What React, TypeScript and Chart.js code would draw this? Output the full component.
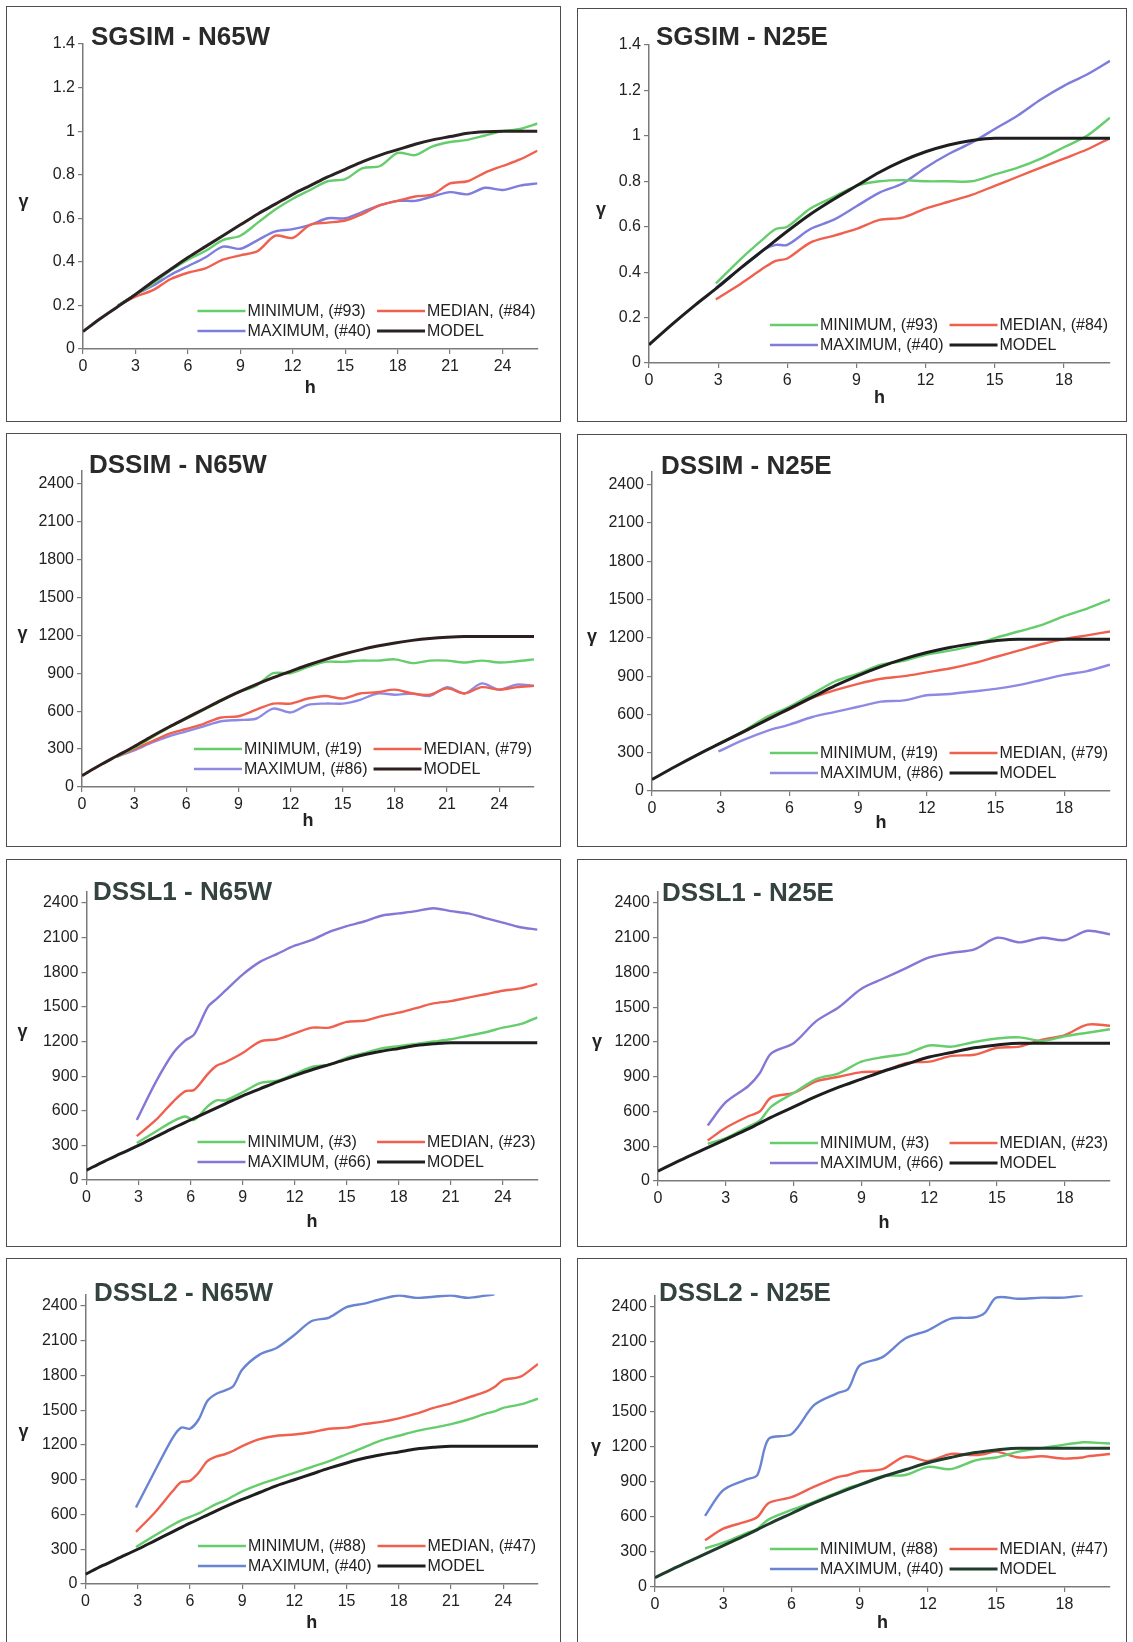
import React, { useEffect, useRef } from "react";
import { Chart, registerables } from "chart.js";

Chart.register(...registerables);

const FONT = '"Liberation Sans", Arial, Helvetica, sans-serif';

const GREEN = "#66cd6c";
const RED = "#f0604e";

// lag distances h for the fitted models
const lags26 = [0, 1, 2, 3, 4, 5, 6, 7, 8, 9, 10, 11, 12, 13, 14, 15, 16, 17, 18, 19, 20, 21, 22, 23, 24, 25, 26];
const lags20 = [0, 1, 2, 3, 4, 5, 6, 7, 8, 9, 10, 11, 12, 13, 14, 15, 16, 17, 18, 19, 20];

// ---- SGSIM - N65W ----
const sgsimN65wLabels = ["MINIMUM, (#93)", "MEDIAN, (#84)", "MAXIMUM, (#40)", "MODEL"];
const sgsimN65wModel = [0.08, 0.14, 0.195, 0.25, 0.31, 0.365, 0.42, 0.47, 0.52, 0.57, 0.62, 0.665, 0.71, 0.75, 0.79, 0.825, 0.86, 0.89, 0.915, 0.94, 0.96, 0.975, 0.99, 0.997, 1.0, 1.0, 1.0];
const sgsimN65wLags = [2, 3, 4, 5, 6, 7, 8, 9, 10, 11, 12, 13, 14, 15, 16, 17, 18, 19, 20, 21, 22, 23, 24, 25, 26];
const sgsimN65wMin = [0.2, 0.25, 0.3, 0.36, 0.41, 0.45, 0.5, 0.52, 0.58, 0.64, 0.69, 0.73, 0.77, 0.78, 0.83, 0.84, 0.9, 0.89, 0.93, 0.95, 0.96, 0.98, 1.0, 1.01, 1.035];
const sgsimN65wMed = [0.2, 0.24, 0.27, 0.32, 0.35, 0.37, 0.41, 0.43, 0.45, 0.52, 0.51, 0.57, 0.58, 0.59, 0.62, 0.66, 0.68, 0.7, 0.71, 0.76, 0.77, 0.81, 0.84, 0.87, 0.91];
const sgsimN65wMax = [0.2, 0.25, 0.29, 0.34, 0.38, 0.42, 0.47, 0.46, 0.5, 0.54, 0.55, 0.57, 0.6, 0.6, 0.63, 0.66, 0.68, 0.68, 0.7, 0.72, 0.71, 0.74, 0.73, 0.75, 0.76];

// ---- SGSIM - N25E ----
const sgsimN25eLabels = ["MINIMUM, (#93)", "MEDIAN, (#84)", "MAXIMUM, (#40)", "MODEL"];
const sgsimN25eModel = [0.08, 0.17, 0.255, 0.335, 0.42, 0.5, 0.58, 0.655, 0.72, 0.78, 0.84, 0.89, 0.93, 0.96, 0.98, 0.99, 0.99, 0.99, 0.99, 0.99, 0.99];
const sgsimN25eLags = [2.9, 4, 5, 5.5, 6, 7, 8, 9, 10, 11, 12, 13, 14, 15, 16, 17, 18, 19, 20];
const sgsimN25eMin = [0.35, 0.46, 0.55, 0.59, 0.6, 0.68, 0.73, 0.78, 0.8, 0.805, 0.8, 0.8, 0.8, 0.83, 0.86, 0.9, 0.95, 1.0, 1.08];
const sgsimN25eMed = [0.28, 0.35, 0.42, 0.45, 0.46, 0.53, 0.56, 0.59, 0.63, 0.64, 0.68, 0.71, 0.74, 0.78, 0.82, 0.86, 0.9, 0.94, 0.99];
const sgsimN25eMax = [0.33, 0.42, 0.5, 0.52, 0.52, 0.59, 0.63, 0.69, 0.75, 0.79, 0.86, 0.92, 0.97, 1.03, 1.09, 1.16, 1.22, 1.27, 1.33];

// ---- DSSIM - N65W ----
const dssimN65wLabels = ["MINIMUM, (#19)", "MEDIAN, (#79)", "MAXIMUM, (#86)", "MODEL"];
const dssimN65wModel = [90, 170, 245, 320, 400, 475, 545, 615, 685, 750, 810, 865, 915, 965, 1010, 1050, 1085, 1115, 1140, 1160, 1175, 1185, 1190, 1190, 1190, 1190, 1190];
const dssimN65wLags = [2, 3, 4, 5, 6, 7, 8, 9, 10, 11, 12, 13, 14, 15, 16, 17, 18, 19, 20, 21, 22, 23, 24, 25, 26];
const dssimN65wMin = [240, 310, 390, 470, 540, 610, 680, 750, 800, 900, 900, 950, 990, 990, 1000, 1000, 1010, 980, 1000, 1000, 985, 1000, 985, 995, 1010];
const dssimN65wMed = [240, 300, 360, 420, 460, 500, 550, 560, 610, 660, 660, 700, 720, 700, 740, 750, 770, 740, 730, 780, 740, 790, 770, 790, 800];
const dssimN65wMax = [240, 290, 350, 400, 440, 480, 520, 530, 540, 620, 590, 650, 660, 660, 690, 740, 730, 740, 720, 790, 740, 820, 770, 810, 800];

// ---- DSSIM - N25E ----
const dssimN25eLabels = ["MINIMUM, (#19)", "MEDIAN, (#79)", "MAXIMUM, (#86)", "MODEL"];
const dssimN25eModel = [90, 190, 285, 375, 465, 555, 645, 735, 825, 905, 975, 1035, 1085, 1125, 1155, 1178, 1190, 1190, 1190, 1190, 1190];
const dssimN25eLags = [2.9, 4, 5, 6, 7, 8, 9, 10, 11, 12, 13, 14, 15, 16, 17, 18, 19, 20];
const dssimN25eMin = [370, 470, 580, 660, 760, 860, 920, 990, 1020, 1070, 1100, 1140, 1200, 1250, 1300, 1370, 1430, 1500];
const dssimN25eMed = [370, 460, 570, 640, 730, 790, 840, 880, 900, 930, 960, 1000, 1050, 1100, 1150, 1190, 1220, 1250];
const dssimN25eMax = [310, 400, 470, 520, 580, 620, 660, 700, 710, 750, 760, 780, 800, 830, 870, 910, 940, 990];

// ---- DSSL1 - N65W ----
const dssl1N65wLabels = ["MINIMUM, (#3)", "MEDIAN, (#23)", "MAXIMUM, (#66)", "MODEL"];
const dssl1N65wModel = [85, 160, 230, 300, 375, 450, 520, 590, 660, 730, 790, 850, 905, 955, 1000, 1045, 1085, 1115, 1140, 1165, 1180, 1190, 1190, 1190, 1190, 1190, 1190];
const dssl1N65wLags = [2.9, 4, 5, 5.7, 6.2, 7, 7.5, 8, 9, 10, 11, 12, 13, 14, 15, 16, 17, 18, 19, 20, 21, 22, 23, 24, 25, 26];
const dssl1N65wMin = [320, 420, 510, 550, 520, 640, 690, 690, 760, 840, 860, 920, 980, 1000, 1060, 1100, 1140, 1160, 1180, 1200, 1220, 1250, 1280, 1320, 1350, 1410];
const dssl1N65wMed = [380, 520, 680, 770, 780, 920, 990, 1020, 1100, 1200, 1220, 1270, 1320, 1320, 1370, 1380, 1420, 1450, 1490, 1530, 1550, 1580, 1610, 1640, 1660, 1700];
const dssl1N65wMax = [520, 850, 1100, 1210, 1260, 1500, 1570, 1640, 1780, 1890, 1960, 2030, 2080, 2150, 2200, 2240, 2290, 2310, 2330, 2355, 2330, 2310, 2270, 2230, 2190, 2170];

// ---- DSSL1 - N25E ----
const dssl1N25eLabels = ["MINIMUM, (#3)", "MEDIAN, (#23)", "MAXIMUM, (#66)", "MODEL"];
const dssl1N25eModel = [85, 180, 270, 360, 450, 550, 640, 730, 810, 880, 950, 1010, 1070, 1110, 1150, 1175, 1190, 1190, 1190, 1190, 1190];
const dssl1N25eLags = [2.2, 3, 4, 4.5, 5, 6, 7, 8, 9, 10, 11, 12, 13, 14, 15, 16, 17, 18, 19, 20];
const dssl1N25eMin = [320, 370, 470, 520, 640, 760, 880, 930, 1030, 1070, 1100, 1170, 1160, 1200, 1230, 1240, 1210, 1250, 1280, 1310];
const dssl1N25eMed = [350, 460, 560, 600, 720, 760, 860, 900, 940, 950, 1020, 1030, 1080, 1090, 1150, 1160, 1220, 1260, 1350, 1340];
const dssl1N25eMax = [480, 680, 820, 930, 1100, 1190, 1380, 1500, 1660, 1750, 1840, 1930, 1970, 2000, 2100, 2060, 2100, 2080, 2160, 2130];

// ---- DSSL2 - N65W ----
const dssl2N65wLabels = ["MINIMUM, (#88)", "MEDIAN, (#47)", "MAXIMUM, (#40)", "MODEL"];
const dssl2N65wModel = [85, 160, 230, 300, 375, 450, 525, 595, 665, 730, 790, 850, 900, 950, 1000, 1045, 1085, 1115, 1140, 1165, 1180, 1190, 1190, 1190, 1190, 1190, 1190];
const dssl2N65wLags = [2.9, 4, 5, 5.5, 6, 6.5, 7, 7.5, 8, 8.5, 9, 10, 11, 12, 13, 14, 15, 16, 17, 18, 19, 20, 21, 22, 23, 23.5, 24, 25, 26];
const dssl2N65wMin = [320, 420, 510, 550, 580, 610, 650, 690, 720, 760, 800, 860, 910, 960, 1010, 1060, 1120, 1180, 1240, 1280, 1320, 1350, 1380, 1420, 1470, 1490, 1520, 1550, 1600];
const dssl2N65wMed = [450, 620, 800, 880, 890, 960, 1060, 1100, 1120, 1150, 1190, 1250, 1280, 1290, 1310, 1340, 1350, 1380, 1400, 1430, 1470, 1520, 1560, 1610, 1660, 1700, 1760, 1790, 1900];
const dssl2N65wMax = [660, 980, 1260, 1350, 1340, 1420, 1580, 1640, 1670, 1710, 1850, 1980, 2040, 2150, 2270, 2300, 2390, 2420, 2460, 2490, 2470, 2480, 2490, 2470, 2490, 2500, null, null, null];

// ---- DSSL2 - N25E ----
const dssl2N25eLabels = ["MINIMUM, (#88)", "MEDIAN, (#47)", "MAXIMUM, (#40)", "MODEL"];
const dssl2N25eModel = [80, 175, 265, 355, 445, 540, 630, 720, 800, 875, 945, 1005, 1065, 1110, 1150, 1175, 1190, 1190, 1190, 1190, 1190];
const dssl2N25eLags = [2.2, 3, 4, 4.5, 5, 6, 7, 8, 8.5, 9, 10, 11, 12, 13, 14, 14.5, 15, 16, 17, 18, 18.8, 19, 20];
const dssl2N25eMin = [330, 380, 460, 500, 580, 660, 730, 810, 850, 880, 950, 960, 1030, 1010, 1080, 1100, 1110, 1160, 1190, 1220, 1240, 1240, 1230];
const dssl2N25eMed = [400, 500, 560, 600, 720, 770, 860, 940, 960, 990, 1010, 1120, 1080, 1140, 1130, 1140, 1160, 1110, 1120, 1100, 1110, 1120, 1140];
const dssl2N25eMax = [610, 830, 920, 960, 1270, 1310, 1560, 1660, 1700, 1900, 1970, 2130, 2200, 2300, 2310, 2350, 2480, 2470, 2480, 2480, 2500, null, null];

const SGSIM_TITLE = "#2a2a2a";
const DSSL_TITLE = "#34433f";

const panels = [
  {
    title: "SGSIM - N65W", titleColor: SGSIM_TITLE, labels: sgsimN65wLabels,
    modelLags: lags26, model: sgsimN65wModel, simLags: sgsimN65wLags,
    min: sgsimN65wMin, med: sgsimN65wMed, max: sgsimN65wMax,
    maxColor: "#7e7cdc", modelColor: "#2a2222",
    xMax: 26, yMax: 1.4, yStep: 0.2,
    box: { x: 6, y: 6, w: 555, h: 416 }, plot: { l: 77, r: 531.5, t: 38, b: 343 },
    titleAt: { x: 85, y: 39 }, hY: 382, gammaAt: { x: 17.6, y: 196 }, open: false,
  },
  {
    title: "SGSIM - N25E", titleColor: SGSIM_TITLE, labels: sgsimN25eLabels,
    modelLags: lags20, model: sgsimN25eModel, simLags: sgsimN25eLags,
    min: sgsimN25eMin, med: sgsimN25eMed, max: sgsimN25eMax,
    maxColor: "#7e7cdc", modelColor: "#1e1e1e",
    xMax: 20, yMax: 1.4, yStep: 0.2,
    box: { x: 577, y: 8, w: 550, h: 414 }, plot: { l: 72, r: 533, t: 37, b: 355 },
    titleAt: { x: 79, y: 37 }, hY: 390, gammaAt: { x: 24, y: 202 }, open: false,
  },
  {
    title: "DSSIM - N65W", titleColor: SGSIM_TITLE, labels: dssimN65wLabels,
    modelLags: lags26, model: dssimN65wModel, simLags: dssimN65wLags,
    min: dssimN65wMin, med: dssimN65wMed, max: dssimN65wMax,
    maxColor: "#8e8ae4", modelColor: "#2e1e1e",
    xMax: 26, yMax: 2500, yStep: 300,
    box: { x: 6, y: 433, w: 555, h: 414 }, plot: { l: 76, r: 528, t: 38, b: 354 },
    titleAt: { x: 83, y: 40 }, hY: 388, gammaAt: { x: 16.5, y: 201 }, open: false,
  },
  {
    title: "DSSIM - N25E", titleColor: SGSIM_TITLE, labels: dssimN25eLabels,
    modelLags: lags20, model: dssimN25eModel, simLags: dssimN25eLags,
    min: dssimN25eMin, med: dssimN25eMed, max: dssimN25eMax,
    maxColor: "#8e8ae4", modelColor: "#1e1e1e",
    xMax: 20, yMax: 2500, yStep: 300,
    box: { x: 577, y: 434, w: 550, h: 413 }, plot: { l: 75, r: 533, t: 38, b: 357 },
    titleAt: { x: 84, y: 40 }, hY: 389, gammaAt: { x: 15, y: 203 }, open: false,
  },
  {
    title: "DSSL1 - N65W", titleColor: DSSL_TITLE, labels: dssl1N65wLabels,
    modelLags: lags26, model: dssl1N65wModel, simLags: dssl1N65wLags,
    min: dssl1N65wMin, med: dssl1N65wMed, max: dssl1N65wMax,
    maxColor: "#8478d6", modelColor: "#1e1e1e",
    xMax: 26, yMax: 2500, yStep: 300,
    box: { x: 6, y: 859, w: 555, h: 388 }, plot: { l: 80.5, r: 531.5, t: 32.5, b: 321 },
    titleAt: { x: 87, y: 41 }, hY: 363, gammaAt: { x: 16.5, y: 173 }, open: false,
  },
  {
    title: "DSSL1 - N25E", titleColor: DSSL_TITLE, labels: dssl1N25eLabels,
    modelLags: lags20, model: dssl1N25eModel, simLags: dssl1N25eLags,
    min: dssl1N25eMin, med: dssl1N25eMed, max: dssl1N25eMax,
    maxColor: "#8478d6", modelColor: "#1e1e1e",
    xMax: 20, yMax: 2500, yStep: 300,
    box: { x: 577, y: 859, w: 550, h: 388 }, plot: { l: 81, r: 533, t: 32.4, b: 322 },
    titleAt: { x: 85, y: 42 }, hY: 364, gammaAt: { x: 20, y: 183 }, open: false,
  },
  {
    title: "DSSL2 - N65W", titleColor: DSSL_TITLE, labels: dssl2N65wLabels,
    modelLags: lags26, model: dssl2N65wModel, simLags: dssl2N65wLags,
    min: dssl2N65wMin, med: dssl2N65wMed, max: dssl2N65wMax,
    maxColor: "#6a84d4", modelColor: "#1e1e1e",
    xMax: 26, yMax: 2500, yStep: 300,
    box: { x: 6, y: 1258, w: 555, h: 384 }, plot: { l: 79.5, r: 532, t: 36.4, b: 326 },
    titleAt: { x: 88, y: 43 }, hY: 365, gammaAt: { x: 17.6, y: 174 }, open: true,
  },
  {
    title: "DSSL2 - N25E", titleColor: DSSL_TITLE, labels: dssl2N25eLabels,
    modelLags: lags20, model: dssl2N25eModel, simLags: dssl2N25eLags,
    min: dssl2N25eMin, med: dssl2N25eMed, max: dssl2N25eMax,
    maxColor: "#6a84d4", modelColor: "#1f3b2c",
    xMax: 20, yMax: 2500, yStep: 300,
    box: { x: 577, y: 1258, w: 550, h: 384 }, plot: { l: 78, r: 533, t: 37.3, b: 329 },
    titleAt: { x: 82, y: 43 }, hY: 365, gammaAt: { x: 19, y: 189 }, open: true,
  },
];

const toPoints = (xs: number[], ys: (number | null)[]) => xs.map((x, i) => ({ x, y: ys[i] }));

// Two-column legend in the lower right corner of the plot area
function drawLegend(ctx: CanvasRenderingContext2D, area: any, cfg: any) {
  ctx.font = `16px ${FONT}`;
  const [minL, medL, maxL, modL] = cfg.labels;
  const w1 = Math.max(ctx.measureText(minL).width, ctx.measureText(maxL).width);
  const w2 = Math.max(ctx.measureText(medL).width, ctx.measureText(modL).width);
  const seg = 48;
  const pad = 2;
  const colGap = 6;
  const x2 = area.right - 2 - w2 - pad - seg;
  const x1 = x2 - colGap - w1 - pad - seg;
  const row1 = area.bottom - 38;
  const row2 = area.bottom - 18;
  const entries: [number, number, string, string, number][] = [
    [x1, row1, minL, GREEN, 2.6],
    [x2, row1, medL, RED, 2.6],
    [x1, row2, maxL, cfg.maxColor, 2.6],
    [x2, row2, modL, cfg.modelColor, 3.2],
  ];
  ctx.textAlign = "left";
  ctx.textBaseline = "middle";
  for (const [x, y, text, color, lw] of entries) {
    ctx.beginPath();
    ctx.strokeStyle = color;
    ctx.lineWidth = lw;
    ctx.moveTo(x, y);
    ctx.lineTo(x + seg, y);
    ctx.stroke();
    ctx.fillStyle = "#222";
    ctx.fillText(text, x + seg + pad, y + 1);
  }
}

function VariogramPanel({ cfg }: { cfg: any }) {
  const ref = useRef<HTMLCanvasElement>(null);

  useEffect(() => {
    const { box, plot } = cfg;
    const panelText = {
      id: "panelText",
      afterDraw(chart: any) {
        const ctx = chart.ctx;
        ctx.save();
        ctx.font = `bold 26px ${FONT}`;
        ctx.fillStyle = cfg.titleColor;
        ctx.textAlign = "left";
        ctx.textBaseline = "alphabetic";
        ctx.fillText(cfg.title, cfg.titleAt.x, cfg.titleAt.y);
        ctx.font = `bold 18px ${FONT}`;
        ctx.fillStyle = "#222";
        ctx.textAlign = "center";
        ctx.textBaseline = "middle";
        ctx.fillText("γ", cfg.gammaAt.x, cfg.gammaAt.y);
        drawLegend(ctx, chart.chartArea, cfg);
        ctx.restore();
      },
    };

    const tickFont = { family: FONT, size: 16 };
    const axisGrid = { drawOnChartArea: false, drawTicks: true, tickLength: 5, color: "#7a7a7a", lineWidth: 1.2 };
    const axisBorder = { display: true, color: "#7a7a7a", width: 1.5 };

    const simLine = (label: string, values: any[], color: string) => ({
      label,
      data: toPoints(cfg.simLags, values),
      borderColor: color,
      backgroundColor: color,
      borderWidth: 2.4,
      pointRadius: 0,
      tension: 0.3,
      spanGaps: false,
      fill: false,
    });

    const chart = new Chart(ref.current as HTMLCanvasElement, {
      type: "line",
      data: {
        datasets: [
          {
            label: cfg.labels[3],
            data: toPoints(cfg.modelLags, cfg.model),
            borderColor: cfg.modelColor,
            backgroundColor: cfg.modelColor,
            borderWidth: 3,
            pointRadius: 0,
            cubicInterpolationMode: "monotone",
            fill: false,
          },
          simLine(cfg.labels[0], cfg.min, GREEN),
          simLine(cfg.labels[1], cfg.med, RED),
          simLine(cfg.labels[2], cfg.max, cfg.maxColor),
        ],
      },
      options: {
        responsive: false,
        animation: false,
        devicePixelRatio: 1,
        events: [],
        layout: { padding: { left: 0, top: plot.t, right: box.w - plot.r, bottom: 0 } },
        plugins: { legend: { display: false }, tooltip: { enabled: false }, title: { display: false } },
        scales: {
          x: {
            type: "linear",
            min: 0,
            max: cfg.xMax,
            afterFit: (s: any) => { s.height = box.h - plot.b; },
            ticks: {
              stepSize: 3, includeBounds: false, autoSkip: false, maxRotation: 0,
              padding: 3, color: "#222", font: tickFont,
              callback: (v: any) => String(v),
            },
            grid: axisGrid,
            border: axisBorder,
            title: {
              display: true, text: "h", color: "#222",
              font: { family: FONT, size: 18, weight: "bold" },
              padding: { top: 0, bottom: box.h - cfg.hY - 10.8 },
            },
          },
          y: {
            type: "linear",
            min: 0,
            max: cfg.yMax,
            afterFit: (s: any) => { s.width = plot.l; },
            ticks: {
              stepSize: cfg.yStep, includeBounds: false, autoSkip: false,
              padding: 3, color: "#222", font: tickFont,
              callback: (v: any) => String(+Number(v).toFixed(3)),
            },
            grid: axisGrid,
            border: axisBorder,
          },
        },
      },
      plugins: [panelText],
    } as any);

    return () => chart.destroy();
  }, [cfg]);

  const { box } = cfg;
  return (
    <>
      <div
        style={{
          position: "absolute", left: box.x, top: box.y, width: box.w, height: box.h,
          boxSizing: "border-box", border: "1.5px solid #4d4d4d",
          borderBottom: cfg.open ? "none" : "1.5px solid #4d4d4d",
        }}
      />
      <canvas
        ref={ref}
        width={box.w}
        height={box.h}
        style={{ position: "absolute", left: box.x, top: box.y, width: box.w, height: box.h }}
      />
    </>
  );
}

export default function App() {
  return (
    <div style={{ position: "absolute", left: 0, top: 0, width: 1133, height: 1642, background: "#fff", overflow: "hidden" }}>
      {panels.map((p) => (
        <VariogramPanel key={p.title} cfg={p} />
      ))}
    </div>
  );
}
